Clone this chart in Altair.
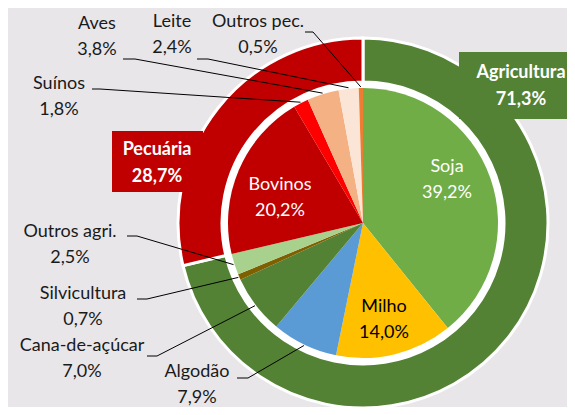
import math
import altair as alt
import pandas as pd

# ---------------- data ----------------
outer_names = ["Agricultura", "Pecuária"]
outer_values = [71.3, 28.7]
outer_colors = ["#548235", "#C00000"]

inner_names = ["Soja", "Milho", "Algodão", "Cana-de-açúcar", "Silvicultura",
               "Outros agri.", "Bovinos", "Suínos", "Aves", "Leite", "Outros pec."]
inner_values = [39.2, 14.0, 7.9, 7.0, 0.7, 2.5, 20.2, 1.8, 3.8, 2.4, 0.5]
inner_colors = ["#70AD47", "#FFC000", "#5B9BD5", "#548235", "#7F6000",
                "#A9D18E", "#C00000", "#FF0000", "#F4B183", "#FBE5D6", "#ED7D31"]

# ---------------- layout (chart pixel coords) ----------------
W, H = 559, 399
CX, CY = 355, 215
R_PIE = 135
R_GAP = 141
R_OUT = 185
R_LEAD = 136
FONT = "Lato"
FS = 18
LH = 26

# labels inside slices: name -> (x, y of first line, colour)
inside_layout = {
    "Soja": (439, 159, "white"),
    "Milho": (376, 299, "black"),
    "Bovinos": (272, 177, "white"),
}
# outside labels: name -> (text x, text y first line, line start x, elbow x, line y)
outside_layout = {
    "Outros pec.": (250, 14, 297, 305, 24),
    "Leite": (164, 14, 189, 200, 51),
    "Aves": (89, 16, 115, 127, 51),
    "Suínos": (51, 76, 84, 92, 81),
    "Outros agri.": (62, 224, 119, 129, 228),
    "Silvicultura": (75, 286, 129, 139, 291),
    "Cana-de-açúcar": (74, 338, 139, 149, 348),
    "Algodão": (189, 364, 229, 240, 370),
}
# category boxes: name -> (x, x2, y, y2, text x, text y)
box_layout = {
    "Agricultura": (451, 567, 44, 111, 513, 65),
    "Pecuária": (104, 195, 123, 184, 149, 142),
}


def pct(v):
    return f"{v:.1f}".replace(".", ",") + "%"


inner_df = pd.DataFrame({"name": inner_names, "value": inner_values,
                         "idx": list(range(len(inner_names)))})
outer_df = pd.DataFrame({"name": outer_names, "value": outer_values,
                         "idx": list(range(len(outer_names)))})

# leader lines: anchor derived from slice mid-angle
line_rows = []
cum = 0.0
mids = {}
for n, v in zip(inner_names, inner_values):
    mids[n] = (cum + v / 2) / 100 * 2 * math.pi
    cum += v
for i, (n, (tx, ty, x0, x1, yl)) in enumerate(outside_layout.items()):
    a = mids[n]
    ex = CX + R_LEAD * math.sin(a)
    ey = CY - R_LEAD * math.cos(a)
    line_rows += [
        {"id": i, "o": 0, "x": x0, "y": yl},
        {"id": i, "o": 1, "x": x1, "y": yl},
        {"id": i, "o": 2, "x": ex, "y": ey},
    ]
lines_df = pd.DataFrame(line_rows)

val = dict(zip(inner_names, inner_values))
text_rows = []
for n, (tx, ty, x0, x1, yl) in outside_layout.items():
    text_rows.append({"t": n, "x": tx, "y": ty, "c": "#1A1A1A"})
    text_rows.append({"t": pct(val[n]), "x": tx, "y": ty + LH, "c": "#1A1A1A"})
for n, (tx, ty, c) in inside_layout.items():
    text_rows.append({"t": n, "x": tx, "y": ty, "c": c})
    text_rows.append({"t": pct(val[n]), "x": tx, "y": ty + LH, "c": c})
text_df = pd.DataFrame(text_rows)

oval = dict(zip(outer_names, outer_values))
box_rows = []
box_text = []
for n, (x, x2, y, y2, tx, ty) in box_layout.items():
    box_rows.append({"x": x, "x2": x2, "y": y, "y2": y2,
                     "c": outer_colors[outer_names.index(n)]})
    box_text.append({"t": n, "x": tx, "y": ty})
    box_text.append({"t": pct(oval[n]), "x": tx, "y": ty + LH + 1})
box_df = pd.DataFrame(box_rows)
box_text_df = pd.DataFrame(box_text)

# ---------------- chart ----------------
outer = alt.Chart(outer_df).mark_arc(
    radius=R_OUT, radius2=R_GAP, stroke="white", strokeWidth=3
).encode(
    theta=alt.Theta("value:Q", stack=True),
    order=alt.Order("idx:Q"),
    color=alt.Color("name:N", scale=alt.Scale(domain=outer_names, range=outer_colors), legend=None),
    x=alt.value(CX), y=alt.value(CY),
)

disc = alt.Chart(pd.DataFrame({"v": [1]})).mark_arc(
    radius=R_GAP, color="white"
).encode(theta=alt.Theta("v:Q"), x=alt.value(CX), y=alt.value(CY))

inner = alt.Chart(inner_df).mark_arc(radius=R_PIE).encode(
    theta=alt.Theta("value:Q", stack=True),
    order=alt.Order("idx:Q"),
    color=alt.Color("name:N", scale=alt.Scale(domain=inner_names, range=inner_colors), legend=None),
    x=alt.value(CX), y=alt.value(CY),
)

leaders = alt.Chart(lines_df).mark_line(color="black", strokeWidth=1).encode(
    x=alt.X("x:Q", scale=None, axis=None),
    y=alt.Y("y:Q", scale=None, axis=None),
    detail="id:N",
    order="o:Q",
)

labels = alt.Chart(text_df).mark_text(
    font=FONT, fontSize=FS, align="center", baseline="middle"
).encode(
    x=alt.X("x:Q", scale=None, axis=None),
    y=alt.Y("y:Q", scale=None, axis=None),
    text="t:N",
    color=alt.Color("c:N", scale=None),
)

boxes = alt.Chart(box_df).mark_rect().encode(
    x=alt.X("x:Q", scale=None, axis=None), x2="x2:Q",
    y=alt.Y("y:Q", scale=None, axis=None), y2="y2:Q",
    color=alt.Color("c:N", scale=None),
)

box_labels = alt.Chart(box_text_df).mark_text(
    font=FONT, fontSize=FS, fontWeight="bold", color="white",
    align="center", baseline="middle"
).encode(
    x=alt.X("x:Q", scale=None, axis=None),
    y=alt.Y("y:Q", scale=None, axis=None),
    text="t:N",
)

chart = alt.layer(outer, disc, inner, leaders, boxes, labels, box_labels).resolve_scale(
    color="independent", theta="independent"
).properties(
    width=W, height=H,
    autosize=alt.AutoSizeParams(type="none"),
    padding=0,
    background="#E8E6E9",
).configure_view(stroke=None)

chart.save("out.html", embed_options={"renderer": "svg", "actions": False})
